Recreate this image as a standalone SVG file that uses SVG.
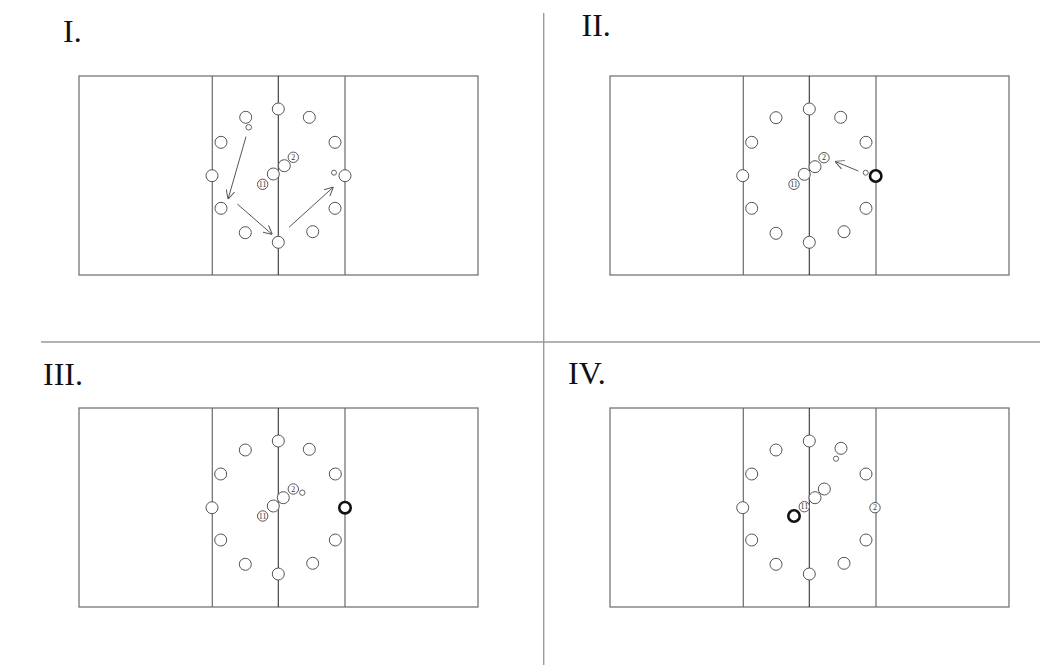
<svg xmlns="http://www.w3.org/2000/svg" width="1042" height="665" viewBox="0 0 1042 665">
<style>
.field{fill:none;stroke:#6a6a6a;stroke-width:1.2}
.mid{stroke:#333;stroke-width:1.1}
.zone{stroke:#6a6a6a;stroke-width:1.2}
.p{fill:#fff;stroke:#555;stroke-width:1}
.s{fill:#fff;stroke:#555;stroke-width:0.9}
.b{fill:#fff;stroke:#111;stroke-width:2.6}
.num{font-family:"Liberation Serif",serif;font-size:8px;fill:#333;text-anchor:middle}
.title{font-family:"Liberation Serif",serif;font-size:32px;fill:#111}
.div{stroke:#9a9a9a;stroke-width:1.4}
.arr{stroke:#555;stroke-width:1;fill:none;marker-end:url(#ah)}
</style>
<defs>
<marker id="ah" viewBox="0 0 10 10" refX="9" refY="5" markerWidth="9" markerHeight="9" markerUnits="userSpaceOnUse" orient="auto">
<path d="M0,0 L10,5 L0,10" fill="none" stroke="#555" stroke-width="1.1"/>
</marker>
<g id="court">
<rect class="field" x="79" y="76" width="399" height="199"/>
<line class="zone" x1="212.3" y1="76" x2="212.3" y2="275"/>
<line class="mid" x1="278.3" y1="76" x2="278.3" y2="275"/>
<line class="zone" x1="345" y1="76" x2="345" y2="275"/>
</g>
</defs>
<rect width="1042" height="665" fill="#fff"/>
<g id="dividers">
<line class="div" x1="543.7" y1="13" x2="543.7" y2="665"/>
<line class="div" x1="41" y1="342" x2="1040" y2="342"/>
</g>
<g id="titles">
<text class="title" x="63" y="41.5">I.</text>
<text class="title" x="581.5" y="35.5">II.</text>
<text class="title" x="43" y="385">III.</text>
<text class="title" x="568" y="383.5">IV.</text>
</g>

<g id="panel1">
<use href="#court"/>
<g id="p1-players">
<circle class="p" cx="278.3" cy="109" r="6"/>
<circle class="p" cx="245.7" cy="117.3" r="6"/>
<circle class="s" cx="248.7" cy="127.3" r="2.8"/>
<circle class="p" cx="309.3" cy="117.3" r="6"/>
<circle class="p" cx="221" cy="142.3" r="6"/>
<circle class="p" cx="335" cy="142.3" r="6"/>
<circle class="p" cx="212" cy="175.7" r="6"/>
<circle class="p" cx="345" cy="175.7" r="6"/>
<circle class="s" cx="334" cy="172.7" r="2.5"/>
<circle class="p" cx="221" cy="208.3" r="6"/>
<circle class="p" cx="335" cy="208.3" r="6"/>
<circle class="p" cx="245.3" cy="232.7" r="6"/>
<circle class="p" cx="312.7" cy="231.7" r="6"/>
<circle class="p" cx="278.3" cy="242.3" r="6"/>
<circle class="p" cx="273.3" cy="174" r="6"/>
<circle class="p" cx="284.3" cy="165.7" r="6"/>
<circle class="p" cx="262.7" cy="184.3" r="5.2"/>
<text class="num" x="262.7" y="187">11</text>
<circle class="p" cx="293.3" cy="157.3" r="5.2"/>
<text class="num" x="293.3" y="160">2</text>
</g>
<g id="p1-connectors">
<line class="arr" x1="246" y1="136.7" x2="228.3" y2="198.3"/>
<line class="arr" x1="237.3" y1="204" x2="271.7" y2="234"/>
<line class="arr" x1="289" y1="227.3" x2="332.7" y2="187.7"/>
</g>
</g>

<g id="panel2" transform="translate(531,0)">
<use href="#court"/>
<g id="p2-players">
<circle class="p" cx="278.3" cy="109" r="6"/>
<circle class="p" cx="245" cy="117.7" r="6"/>
<circle class="p" cx="309.7" cy="117.3" r="6"/>
<circle class="p" cx="220.7" cy="142.3" r="6"/>
<circle class="p" cx="335" cy="142.3" r="6"/>
<circle class="p" cx="211.7" cy="175.7" r="6"/>
<circle class="s" cx="334.7" cy="172.7" r="2.5"/>
<circle class="b" cx="344.7" cy="176" r="5.7"/>
<circle class="p" cx="220.7" cy="208.3" r="6"/>
<circle class="p" cx="335" cy="208.3" r="6"/>
<circle class="p" cx="245" cy="233.3" r="6"/>
<circle class="p" cx="313" cy="231.7" r="6"/>
<circle class="p" cx="278.3" cy="242.3" r="6"/>
<circle class="p" cx="273.3" cy="174.3" r="6"/>
<circle class="p" cx="284" cy="166.7" r="6"/>
<circle class="p" cx="263" cy="184.3" r="5.2"/>
<text class="num" x="263" y="187">11</text>
<circle class="p" cx="293" cy="157.7" r="5.2"/>
<text class="num" x="293" y="160.4">2</text>
</g>
<g id="p2-connectors">
<line class="arr" x1="327.3" y1="171" x2="304.7" y2="161.7"/>
</g>
</g>

<g id="panel3" transform="translate(0,332)">
<use href="#court"/>
<g id="p3-players">
<circle class="p" cx="278.3" cy="109" r="6"/>
<circle class="p" cx="245.3" cy="118" r="6"/>
<circle class="p" cx="309.3" cy="117.3" r="6"/>
<circle class="p" cx="220.7" cy="142" r="6"/>
<circle class="p" cx="335.3" cy="142" r="6"/>
<circle class="p" cx="212" cy="175.7" r="6"/>
<circle class="b" cx="345" cy="175.7" r="5.7"/>
<circle class="p" cx="220.7" cy="208" r="6"/>
<circle class="p" cx="335.3" cy="208" r="6"/>
<circle class="p" cx="245.3" cy="232.3" r="6"/>
<circle class="p" cx="312.7" cy="231.3" r="6"/>
<circle class="p" cx="278.3" cy="242" r="6"/>
<circle class="p" cx="273.3" cy="174" r="6"/>
<circle class="p" cx="283.3" cy="165.7" r="6"/>
<circle class="p" cx="262.7" cy="184" r="5.2"/>
<text class="num" x="262.7" y="186.7">11</text>
<circle class="p" cx="293.3" cy="157" r="5.2"/>
<text class="num" x="293.3" y="159.7">2</text>
<circle class="s" cx="302.3" cy="160.7" r="2.7"/>
</g>
</g>

<g id="panel4" transform="translate(531,332)">
<use href="#court"/>
<g id="p4-players">
<circle class="p" cx="278.3" cy="109" r="6"/>
<circle class="p" cx="245" cy="118" r="6"/>
<circle class="p" cx="310" cy="116.3" r="6"/>
<circle class="s" cx="305" cy="126.7" r="2.6"/>
<circle class="p" cx="220.7" cy="142" r="6"/>
<circle class="p" cx="335" cy="142" r="6"/>
<circle class="p" cx="211.7" cy="175.7" r="6"/>
<circle class="p" cx="344" cy="175.7" r="5.2"/>
<text class="num" x="344" y="178.4">2</text>
<circle class="p" cx="220.7" cy="208" r="6"/>
<circle class="p" cx="335" cy="208" r="6"/>
<circle class="p" cx="245" cy="232.3" r="6"/>
<circle class="p" cx="313" cy="231.3" r="6"/>
<circle class="p" cx="278.3" cy="242" r="6"/>
<circle class="p" cx="284" cy="165.7" r="6"/>
<circle class="p" cx="293.3" cy="157" r="6"/>
<circle class="p" cx="273.3" cy="174.7" r="5.2"/>
<text class="num" x="273.3" y="177.4">11</text>
<circle class="b" cx="263" cy="184" r="5.7"/>
</g>
</g>
</svg>
